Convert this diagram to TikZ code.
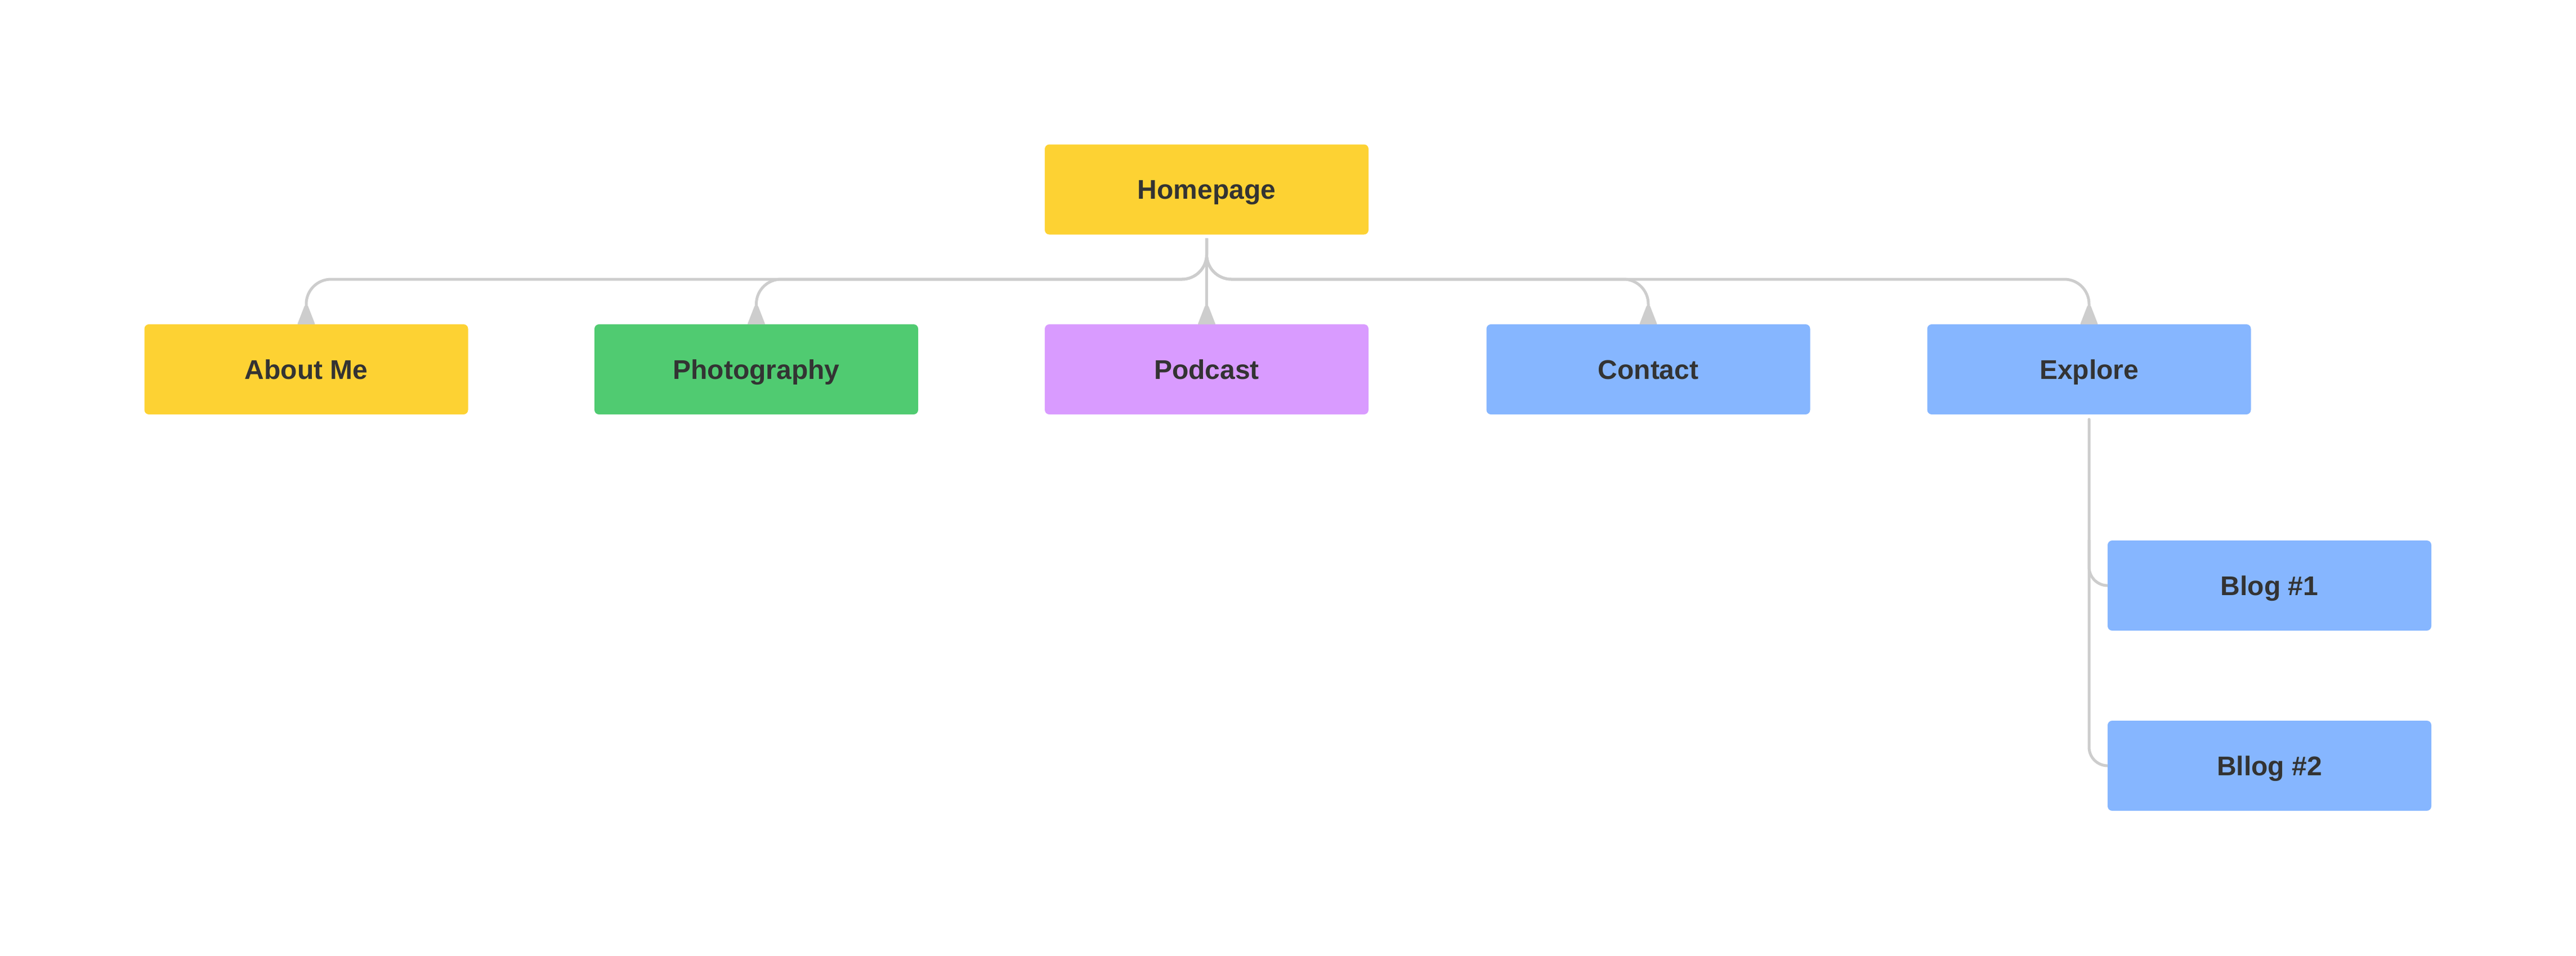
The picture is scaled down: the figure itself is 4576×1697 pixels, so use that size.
\documentclass[tikz,border=0pt]{standalone}
\usepackage{fontspec}
\setmainfont{Liberation Sans}
\usetikzlibrary{calc}
\definecolor{cyellow}{HTML}{FDD233}
\definecolor{cgreen}{HTML}{50CB71}
\definecolor{cpurple}{HTML}{D99BFF}
\definecolor{cblue}{HTML}{86B6FF}
\definecolor{cline}{HTML}{CDCDCD}
\definecolor{ctext}{HTML}{333333}
\tikzset{
  box/.style={rectangle, rounded corners=2pt, minimum width=143.75pt, minimum height=40pt,
    inner sep=0pt, text=ctext, font=\fontsize{12}{14}\selectfont\bfseries,
    text height=8.6pt, text depth=0pt},
  conn/.style={draw=cline, line width=1.25pt, rounded corners=11pt},
  subconn/.style={draw=cline, line width=1.25pt, rounded corners=8.25pt},
  wedge/.style={fill=cline, draw=cline, line width=0.5pt, line join=round},
}
\newcommand{\wedgeat}[1]{%
  \filldraw[wedge] ([xshift=-3.6pt]#1.north) -- ([xshift=-0.6pt,yshift=7.75pt]#1.north)
    -- ([xshift=0.6pt,yshift=7.75pt]#1.north) -- ([xshift=3.6pt]#1.north) -- cycle;}
\begin{document}
\begin{tikzpicture}[x=0.25pt, y=-0.25pt]
\useasboundingbox (0,0) rectangle (4576,1697);
\node[box, fill=cyellow] (home) at (2143.5,336.5) {Homepage};
\node[box, fill=cyellow] (about) at (544,656) {About Me};
\node[box, fill=cgreen] (photo) at (1343.5,656) {Photography};
\node[box, fill=cpurple] (podcast) at (2143.5,656) {Podcast};
\node[box, fill=cblue] (contact) at (2928,656) {Contact};
\node[box, fill=cblue] (explore) at (3711,656) {Explore};
\node[box, fill=cblue] (blog1) at (4031.5,1040) {Blog \#1};
\node[box, fill=cblue] (blog2) at (4031.5,1360) {Bllog \#2};
\coordinate (hs) at ([yshift=-1.5pt]home.south);
\coordinate (bus) at (0,496);
\foreach \n in {about,photo,contact,explore}{
  \draw[conn] (hs) |- (\n.north |- bus) -- ([yshift=7.75pt]\n.north);
  \wedgeat{\n}
}
\draw[conn] (hs) -- ([yshift=7.75pt]podcast.north);
\wedgeat{podcast}
\draw[subconn, line cap=round] ([yshift=-2pt]explore.south) |- (blog2.west);
\draw[subconn] (explore.south |- blog1.north) |- (blog1.west);
\end{tikzpicture}
\end{document}
